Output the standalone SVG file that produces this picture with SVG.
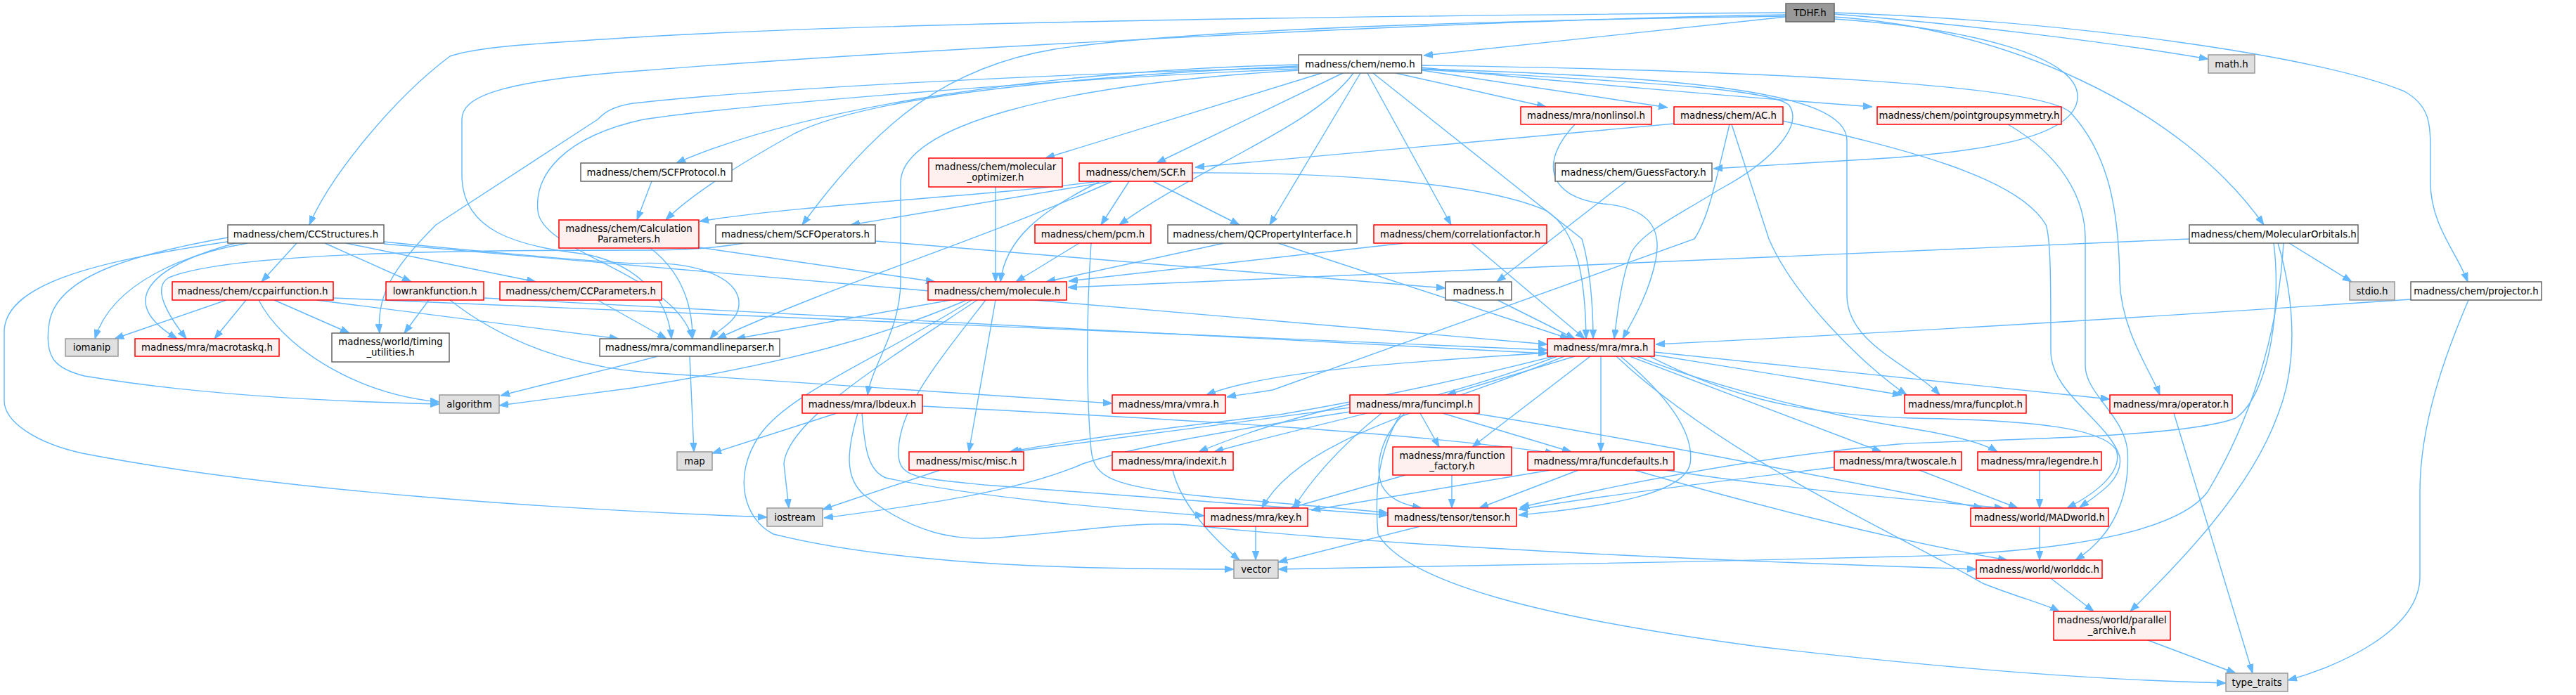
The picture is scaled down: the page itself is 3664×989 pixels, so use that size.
<svg xmlns="http://www.w3.org/2000/svg" width="3664" height="989" viewBox="0 0 3664 989">
<defs>
<style>
.e{fill:none;stroke:#63b8ff;stroke-width:1.4;marker-end:url(#ah)}
.r{fill:#fff0f0;stroke:#ff0000;stroke-width:1.5}
.g{fill:#e0e0e0;stroke:#999999;stroke-width:1.5}
.w{fill:#ffffff;stroke:#666666;stroke-width:1.5}
.root{fill:#999999;stroke:#666666;stroke-width:1.5}
text{font-family:"DejaVu Sans","Liberation Sans",sans-serif;font-size:13.33px;fill:#000;text-anchor:middle}
</style>
<marker id="ah" viewBox="0 0 13 10" refX="13" refY="5" markerWidth="13" markerHeight="10" markerUnits="userSpaceOnUse" orient="auto">
<path d="M0,0.3 L13,5 L0,9.7 z" fill="#63b8ff" stroke="#63b8ff" stroke-width="1"/>
</marker>
</defs>
<rect width="3664" height="989" fill="#ffffff"/>
<g id="edges">
<path class="e" d="M2540,24 L2025,79"/>
<path class="e" d="M2609,20 C2800,35 3000,60 3141,84"/>
<path class="e" d="M2609,24 C2850,40 3100,150 3220,320"/>
<path class="e" d="M2609,18 C2950,30 3300,80 3420,130 C3455,150 3457,175 3457,210 L3457,260 C3457,320 3495,360 3510,401"/>
<path class="e" d="M2609,27 C2800,40 2960,80 2955,140 C2950,200 2800,215 2700,224 L2437,240"/>
<path class="e" d="M2540,18 C2000,22 1300,30 920,52 C760,62 680,66 640,80 C560,140 470,250 440,320"/>
<path class="e" d="M2540,21 C2100,28 1300,70 920,100 C700,115 657,140 657,170 L657,250 C657,330 740,350 820,360 C900,370 950,420 955,482"/>
<path class="e" d="M2540,23 C2200,28 1700,40 1500,70 C1350,95 1250,170 1141,320"/>
<path class="e" d="M1985,104 L2199,152"/>
<path class="e" d="M2022,100 L2372,153"/>
<path class="e" d="M2022,96 C2200,115 2500,140 2663,152"/>
<path class="e" d="M1847,92 C1500,100 1150,150 962,232"/>
<path class="e" d="M1847,94 C1500,110 1230,140 1130,190 C1040,240 980,280 947,313"/>
<path class="e" d="M1847,96 C1500,105 1100,125 900,147 C870,152 860,160 850,170 L620,320 C560,380 535,420 540,474"/>
<path class="e" d="M1847,98 C1500,112 1050,150 915,170 C800,195 760,250 765,300 C770,360 960,390 985,482"/>
<path class="e" d="M1847,100 C1500,120 1281,180 1281,260 L1281,400 C1281,470 1240,520 1234,562"/>
<path class="e" d="M1880,104 L1487,225"/>
<path class="e" d="M1910,104 L1645,232"/>
<path class="e" d="M1925,104 C1870,180 1700,240 1592,320"/>
<path class="e" d="M1935,104 L1806,320"/>
<path class="e" d="M1945,104 L2064,320"/>
<path class="e" d="M1953,104 L2250,340 C2262,380 2266,440 2266,482"/>
<path class="e" d="M2022,98 C2400,110 2627,130 2627,200 L2627,420 C2627,490 2720,520 2759,562"/>
<path class="e" d="M2022,93 C2500,100 2900,120 2945,160 C3000,220 3014,300 3015,400 C3017,470 3060,530 3072,562"/>
<path class="e" d="M2022,99 C2300,115 2520,125 2545,150 C2565,180 2520,230 2445,270 C2390,305 2335,330 2320,360 C2305,400 2300,450 2296,482"/>
<path class="e" d="M2381,176 L1700,238"/>
<path class="e" d="M2460,177 C2440,260 2430,310 2410,340 L1810,555 C1780,560 1760,562 1745,565"/>
<path class="e" d="M2463,177 L2516,340 C2550,420 2650,520 2712,562"/>
<path class="e" d="M2536,172 C2700,210 2870,250 2910,320 C2917,340 2917,400 2917,500 C2917,560 3000,600 3015,650 C3020,680 2990,700 2958,722"/>
<path class="e" d="M2856,177 C2930,220 2966,280 2966,340 L2966,520 C2966,560 3020,590 3026,640 C3030,700 3010,760 2952,797"/>
<path class="e" d="M2240,177 C2190,230 2200,280 2280,290 C2340,295 2365,320 2355,370 C2345,420 2320,460 2308,482"/>
<path class="e" d="M2313,258 L2129,401"/>
<path class="e" d="M927,258 L906,313"/>
<path class="e" d="M1416,266 L1416,401"/>
<path class="e" d="M1580,258 L1210,320"/>
<path class="e" d="M1563,258 C1400,280 1150,290 995,315"/>
<path class="e" d="M1606,258 L1566,320"/>
<path class="e" d="M1640,258 L1763,320"/>
<path class="e" d="M1565,258 C1480,300 1430,340 1423,401"/>
<path class="e" d="M1582,258 C1400,340 1200,400 1020,482"/>
<path class="e" d="M1696,246 C1850,245 2100,255 2200,300 C2245,330 2255,400 2256,482"/>
<path class="e" d="M422,346 L372,401"/>
<path class="e" d="M462,346 L585,401"/>
<path class="e" d="M492,346 L762,401"/>
<path class="e" d="M352,346 C270,360 160,400 135,482"/>
<path class="e" d="M335,346 C210,380 165,430 252,482"/>
<path class="e" d="M324,338 C200,360 80,390 70,460 C62,510 80,525 120,535 C300,565 500,572 625,575"/>
<path class="e" d="M330,343 C150,370 10,400 6,470 L6,570 C6,600 50,630 117,645 C400,700 800,725 1091,736"/>
<path class="e" d="M546,344 C700,360 850,372 900,375 C1000,370 1060,400 1050,440 C1045,460 1020,470 1010,482"/>
<path class="e" d="M546,347 L2201,490"/>
<path class="e" d="M322,427 L163,482"/>
<path class="e" d="M350,427 L305,482"/>
<path class="e" d="M368,427 C400,490 500,560 625,572"/>
<path class="e" d="M390,427 L497,474"/>
<path class="e" d="M450,427 L880,482"/>
<path class="e" d="M474,424 L2201,498"/>
<path class="e" d="M610,427 L575,474"/>
<path class="e" d="M640,427 C720,490 820,522 920,530 L1582,574"/>
<path class="e" d="M688,424 L2201,503"/>
<path class="e" d="M850,427 L948,482"/>
<path class="e" d="M994,352 L1330,401"/>
<path class="e" d="M925,353 C960,380 985,420 985,482"/>
<path class="e" d="M1352,427 L1047,482"/>
<path class="e" d="M1375,427 C1250,480 1130,515 900,552 L710,577"/>
<path class="e" d="M1382,427 C1250,510 1120,560 1080,620 C1040,680 1060,740 1100,760 C1300,810 1600,810 1755,810"/>
<path class="e" d="M1390,427 C1250,520 1120,600 1115,660 L1122,723"/>
<path class="e" d="M1416,427 L1378,643"/>
<path class="e" d="M1402,427 C1330,520 1280,580 1278,640 C1276,680 1300,680 1400,690 C1600,705 1800,720 1974,733"/>
<path class="e" d="M1190,588 L1013,645"/>
<path class="e" d="M1226,588 C1230,640 1235,670 1260,680 C1400,710 1600,725 1713,734"/>
<path class="e" d="M1220,588 C1205,640 1200,680 1230,705 C1300,760 1360,770 1420,765 C1550,755 1620,740 1700,748 C2000,780 2500,800 2811,810"/>
<path class="e" d="M1312,578 C1700,598 2000,615 2211,645"/>
<path class="e" d="M2201,502 C2000,515 1800,528 1716,562"/>
<path class="e" d="M2240,507 L2058,562"/>
<path class="e" d="M2262,507 L2094,636"/>
<path class="e" d="M2277,507 L2277,643"/>
<path class="e" d="M2318,507 L2676,643"/>
<path class="e" d="M2328,507 C2450,555 2620,595 2720,610 C2780,620 2820,630 2841,643"/>
<path class="e" d="M2353,505 L2705,562"/>
<path class="e" d="M2353,501 L3001,568"/>
<path class="e" d="M2346,507 C2450,560 2550,590 2720,595 C2900,598 2990,610 3010,640 C3020,670 2985,700 2940,723"/>
<path class="e" d="M2299,507 C2450,650 2700,760 2820,830 C2870,850 2910,860 2929,870"/>
<path class="e" d="M2210,507 C2000,560 1850,585 1820,590 C1650,610 1500,630 1436,643"/>
<path class="e" d="M2215,507 C2050,570 1880,600 1727,643"/>
<path class="e" d="M2305,507 C2380,570 2410,620 2404,660 C2395,700 2300,720 2160,733"/>
<path class="e" d="M2225,507 C2050,580 1850,620 1795,723"/>
<path class="e" d="M2020,588 L2047,636"/>
<path class="e" d="M2052,588 L2235,643"/>
<path class="e" d="M1998,588 C1965,620 1955,660 1965,690 C1975,710 1995,718 2022,723"/>
<path class="e" d="M1993,588 C1960,640 1955,700 1960,760 C2000,830 2200,880 2500,920 C2800,955 3000,968 3166,972"/>
<path class="e" d="M1965,588 C1900,640 1860,690 1840,723"/>
<path class="e" d="M1920,580 C1700,610 1550,630 1440,643"/>
<path class="e" d="M1920,575 C1820,600 1760,620 1705,643"/>
<path class="e" d="M1920,586 C1700,620 1600,640 1540,660 C1450,700 1300,720 1172,737"/>
<path class="e" d="M2095,588 C2300,620 2600,680 2820,723"/>
<path class="e" d="M2065,676 L2065,723"/>
<path class="e" d="M1999,676 L1835,723"/>
<path class="e" d="M2245,669 L2104,723"/>
<path class="e" d="M2205,669 L1865,726"/>
<path class="e" d="M2369,669 C2500,690 2700,710 2850,723"/>
<path class="e" d="M2325,669 C2500,720 2700,770 2855,797"/>
<path class="e" d="M2609,665 C2400,690 2250,710 2160,725"/>
<path class="e" d="M2730,669 L2870,723"/>
<path class="e" d="M2901,669 L2901,723"/>
<path class="e" d="M2901,749 L2901,797"/>
<path class="e" d="M2917,823 L2978,870"/>
<path class="e" d="M3055,911 L3180,958"/>
<path class="e" d="M3092,588 L3204,958"/>
<path class="e" d="M3429,426 C3000,455 2600,478 2355,490"/>
<path class="e" d="M3511,427 C3480,500 3442,600 3442,700 L3442,820 C3442,900 3320,950 3254,968"/>
<path class="e" d="M3256,346 L3345,401"/>
<path class="e" d="M3114,340 L1519,409"/>
<path class="e" d="M3234,346 C3245,430 3230,560 3180,595 C3100,625 2800,625 2700,632 C2500,650 2300,690 2162,722"/>
<path class="e" d="M3240,346 C3265,430 3268,520 3240,590 C3200,700 3100,800 3030,870"/>
<path class="e" d="M3248,346 C3240,480 3200,600 3140,700 C3080,780 2800,790 2700,792 C2400,800 2000,808 1818,810"/>
<path class="e" d="M2020,749 L1818,800"/>
<path class="e" d="M1786,749 L1786,797"/>
<path class="e" d="M1668,669 C1680,720 1730,770 1763,797"/>
<path class="e" d="M1337,669 L1170,725"/>
<path class="e" d="M981,507 L987,643"/>
<path class="e" d="M935,507 C870,525 780,545 712,563"/>
<path class="e" d="M1245,343 L2056,410"/>
<path class="e" d="M1058,346 C1000,356 950,356 900,356 C600,356 320,362 240,395 C215,410 240,450 265,482"/>
<path class="e" d="M1535,346 L1445,401"/>
<path class="e" d="M1552,346 C1545,450 1545,560 1552,640 C1556,680 1580,690 1700,705 C1800,715 1900,722 1974,730"/>
<path class="e" d="M1741,346 L1488,401"/>
<path class="e" d="M1818,346 L2232,482"/>
<path class="e" d="M1997,346 L1520,400"/>
<path class="e" d="M2093,346 L2254,482"/>
<path class="e" d="M2130,427 L2240,482"/>
</g>
<g id="n_tdhf"><rect class="root" x="2540" y="5" width="69" height="26"/><text x="2574.5" y="22.5">TDHF.h</text></g>
<g id="n_nemo"><rect class="w" x="1847" y="78" width="175" height="26"/><text x="1934.5" y="95.5">madness/chem/nemo.h</text></g>
<g id="n_math"><rect class="g" x="3141" y="78" width="66" height="26"/><text x="3174" y="95.5">math.h</text></g>
<g id="n_nonlinsol"><rect class="r" x="2163" y="152" width="186" height="25"/><text x="2256" y="169">madness/mra/nonlinsol.h</text></g>
<g id="n_ac"><rect class="r" x="2381" y="152" width="155" height="25"/><text x="2458.5" y="169">madness/chem/AC.h</text></g>
<g id="n_pgs"><rect class="r" x="2670" y="152" width="262" height="25"/><text x="2801" y="169">madness/chem/pointgroupsymmetry.h</text></g>
<g id="n_scfprotocol"><rect class="w" x="826" y="232" width="215" height="26"/><text x="933.5" y="249.5">madness/chem/SCFProtocol.h</text></g>
<g id="n_molopt"><rect class="r" x="1321" y="225" width="190" height="41"/><text x="1416" y="242">madness/chem/molecular</text><text x="1416" y="256.5">_optimizer.h</text></g>
<g id="n_scf"><rect class="r" x="1535" y="232" width="161" height="26"/><text x="1615.5" y="249.5">madness/chem/SCF.h</text></g>
<g id="n_guess"><rect class="w" x="2212" y="232" width="223" height="26"/><text x="2323.5" y="249.5">madness/chem/GuessFactory.h</text></g>
<g id="n_ccstructures"><rect class="w" x="324" y="320" width="222" height="26"/><text x="435" y="337.5">madness/chem/CCStructures.h</text></g>
<g id="n_calcparams"><rect class="r" x="795" y="313" width="199" height="40"/><text x="894.5" y="330">madness/chem/Calculation</text><text x="894.5" y="344.5">Parameters.h</text></g>
<g id="n_scfoperators"><rect class="w" x="1018" y="320" width="227" height="26"/><text x="1131.5" y="337.5">madness/chem/SCFOperators.h</text></g>
<g id="n_pcm"><rect class="r" x="1472" y="320" width="165" height="26"/><text x="1554.5" y="337.5">madness/chem/pcm.h</text></g>
<g id="n_qcprop"><rect class="w" x="1661" y="320" width="269" height="26"/><text x="1795.5" y="337.5">madness/chem/QCPropertyInterface.h</text></g>
<g id="n_corrfac"><rect class="r" x="1954" y="320" width="246" height="26"/><text x="2077" y="337.5">madness/chem/correlationfactor.h</text></g>
<g id="n_mo"><rect class="w" x="3114" y="320" width="240" height="26"/><text x="3234" y="337.5">madness/chem/MolecularOrbitals.h</text></g>
<g id="n_ccpair"><rect class="r" x="245" y="401" width="229" height="26"/><text x="359.5" y="418.5">madness/chem/ccpairfunction.h</text></g>
<g id="n_lowrank"><rect class="r" x="549" y="401" width="139" height="26"/><text x="618.5" y="418.5">lowrankfunction.h</text></g>
<g id="n_ccparams"><rect class="r" x="711" y="401" width="230" height="26"/><text x="826" y="418.5">madness/chem/CCParameters.h</text></g>
<g id="n_molecule"><rect class="r" x="1320" y="401" width="197" height="26"/><text x="1418.5" y="418.5">madness/chem/molecule.h</text></g>
<g id="n_madness"><rect class="w" x="2056" y="401" width="94" height="26"/><text x="2103" y="418.5">madness.h</text></g>
<g id="n_stdio"><rect class="g" x="3342" y="401" width="64" height="26"/><text x="3374" y="418.5">stdio.h</text></g>
<g id="n_projector"><rect class="w" x="3429" y="401" width="186" height="26"/><text x="3522" y="418.5">madness/chem/projector.h</text></g>
<g id="n_iomanip"><rect class="g" x="93" y="482" width="75" height="25"/><text x="130.5" y="499">iomanip</text></g>
<g id="n_macrotaskq"><rect class="r" x="192" y="482" width="205" height="25"/><text x="294.5" y="499">madness/mra/macrotaskq.h</text></g>
<g id="n_timing"><rect class="w" x="472" y="474" width="167" height="41"/><text x="555.5" y="491">madness/world/timing</text><text x="555.5" y="505.5">_utilities.h</text></g>
<g id="n_cmdline"><rect class="w" x="853" y="482" width="256" height="25"/><text x="981" y="499">madness/mra/commandlineparser.h</text></g>
<g id="n_mra"><rect class="r" x="2201" y="482" width="152" height="25"/><text x="2277" y="499">madness/mra/mra.h</text></g>
<g id="n_algorithm"><rect class="g" x="625" y="562" width="85" height="26"/><text x="667.5" y="579.5">algorithm</text></g>
<g id="n_lbdeux"><rect class="r" x="1141" y="562" width="171" height="26"/><text x="1226.5" y="579.5">madness/mra/lbdeux.h</text></g>
<g id="n_vmra"><rect class="r" x="1582" y="562" width="161" height="26"/><text x="1662.5" y="579.5">madness/mra/vmra.h</text></g>
<g id="n_funcimpl"><rect class="r" x="1920" y="562" width="184" height="26"/><text x="2012" y="579.5">madness/mra/funcimpl.h</text></g>
<g id="n_funcplot"><rect class="r" x="2709" y="562" width="173" height="26"/><text x="2795.5" y="579.5">madness/mra/funcplot.h</text></g>
<g id="n_operator"><rect class="r" x="3001" y="562" width="174" height="26"/><text x="3088" y="579.5">madness/mra/operator.h</text></g>
<g id="n_map"><rect class="g" x="963" y="643" width="50" height="26"/><text x="988" y="660.5">map</text></g>
<g id="n_misc"><rect class="r" x="1293" y="643" width="163" height="26"/><text x="1374.5" y="660.5">madness/misc/misc.h</text></g>
<g id="n_indexit"><rect class="r" x="1582" y="643" width="172" height="26"/><text x="1668" y="660.5">madness/mra/indexit.h</text></g>
<g id="n_funcfactory"><rect class="r" x="1981" y="636" width="169" height="40"/><text x="2065.5" y="653">madness/mra/function</text><text x="2065.5" y="667.5">_factory.h</text></g>
<g id="n_funcdefaults"><rect class="r" x="2173" y="643" width="208" height="26"/><text x="2277" y="660.5">madness/mra/funcdefaults.h</text></g>
<g id="n_twoscale"><rect class="r" x="2609" y="643" width="181" height="26"/><text x="2699.5" y="660.5">madness/mra/twoscale.h</text></g>
<g id="n_legendre"><rect class="r" x="2813" y="643" width="176" height="26"/><text x="2901" y="660.5">madness/mra/legendre.h</text></g>
<g id="n_iostream"><rect class="g" x="1091" y="723" width="79" height="26"/><text x="1130.5" y="740.5">iostream</text></g>
<g id="n_key"><rect class="r" x="1713" y="723" width="147" height="26"/><text x="1786.5" y="740.5">madness/mra/key.h</text></g>
<g id="n_tensor"><rect class="r" x="1974" y="723" width="183" height="26"/><text x="2065.5" y="740.5">madness/tensor/tensor.h</text></g>
<g id="n_madworld"><rect class="r" x="2803" y="723" width="196" height="26"/><text x="2901" y="740.5">madness/world/MADworld.h</text></g>
<g id="n_vector"><rect class="g" x="1755" y="797" width="63" height="26"/><text x="1786.5" y="814.5">vector</text></g>
<g id="n_worlddc"><rect class="r" x="2811" y="797" width="179" height="26"/><text x="2900.5" y="814.5">madness/world/worlddc.h</text></g>
<g id="n_parchive"><rect class="r" x="2921" y="870" width="166" height="41"/><text x="3004" y="887">madness/world/parallel</text><text x="3004" y="901.5">_archive.h</text></g>
<g id="n_typetraits"><rect class="g" x="3166" y="958" width="88" height="26"/><text x="3210" y="975.5">type_traits</text></g>
</svg>
